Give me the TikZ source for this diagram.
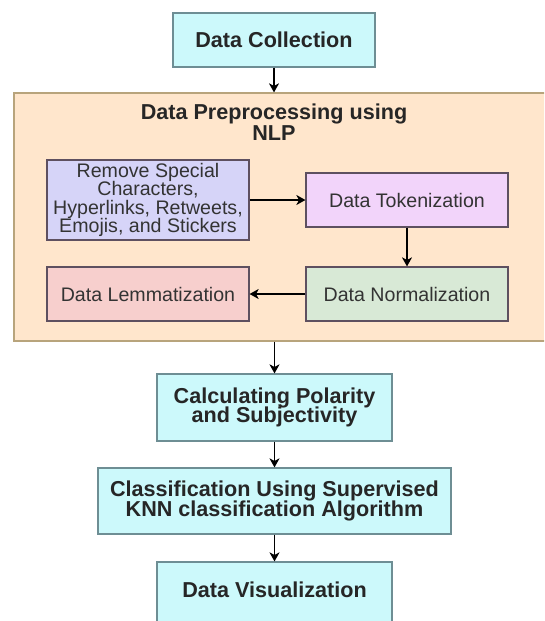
\documentclass[tikz,border=0pt]{standalone}
\usepackage{fontspec}
\setmainfont{Liberation Sans}
\usepackage[dvipsnames]{xcolor}
\usetikzlibrary{arrows.meta}

\definecolor{stepfill}{HTML}{CCF9FB}
\definecolor{stepline}{HTML}{6E8E94}
\definecolor{nlpfill}{HTML}{FFE6CC}
\definecolor{nlpline}{HTML}{B8A47C}
\definecolor{cleanfill}{HTML}{D6D4F8}
\definecolor{tokfill}{HTML}{F2D4FA}
\definecolor{normfill}{HTML}{D8E9D6}
\definecolor{lemfill}{HTML}{F7CFCD}
\definecolor{subline}{HTML}{5E5060}

\lineskiplimit=-20pt

\tikzset{
  mainbox/.style={draw=stepline, fill=stepfill, line width=1.2pt, align=center,
    text=black!85, inner sep=2pt,
    font=\bfseries\fontsize{21.6}{19.8}\selectfont},
  subbox/.style={draw=subline, line width=1.2pt, align=center, text=black!80,
    minimum width=202pt, inner sep=2pt,
    font=\fontsize{19.6}{18.4}\selectfont},
  flow/.style={-{Stealth[length=9pt,width=10pt,inset=2.5pt]}, line width=1.3pt}
}

\begin{document}
\begin{tikzpicture}[x=1pt,y=-1pt]
  \useasboundingbox (0,0) rectangle (544,621);
  \clip (0,0) rectangle (544,621);

  % Top step
  \node[mainbox, minimum width=202pt, minimum height=54pt] (coll) at (274,40) {Data Collection};

  % NLP block (runs off the right edge)
  \node[draw=nlpline, fill=nlpfill, line width=1.2pt, minimum width=546pt, minimum height=248pt] (prep) at (287,217) {};
  \node[font=\bfseries\fontsize{21.6}{20.5}\selectfont, align=center, text=black!85] (preptitle) at (274,122) {Data Preprocessing using\\NLP};

  % Steps inside the block
  \node[subbox, fill=cleanfill, minimum height=80pt] (clean) at (148,200) {Remove Special\\Characters,\\Hyperlinks, Retweets,\\Emojis, and Stickers};
  \node[subbox, fill=tokfill, minimum height=54pt] (tok) at (407,200) {Data Tokenization};
  \node[subbox, fill=normfill, minimum height=54pt] (norm) at (407,294) {Data Normalization};
  \node[subbox, fill=lemfill, minimum height=54pt] (lem) at (148,294) {Data Lemmatization};

  % Lower steps
  \node[mainbox, minimum width=235pt, minimum height=67pt] (calc) at (274.5,407.5) {Calculating Polarity\\and Subjectivity};
  \node[mainbox, minimum width=353pt, minimum height=66pt] (clas) at (274.5,501) {Classification Using Supervised\\KNN classification Algorithm};
  \node[mainbox, minimum width=235pt, minimum height=67pt] (vis) at (274.5,595.5) {};
  \node[font=\bfseries\fontsize{21.6}{19.5}\selectfont, text=black!85] (vistext) at (274.5,590) {Data Visualization};

  % Arrows
  \draw[flow] (coll.south) -- (coll.south |- prep.north);
  \draw[flow] (clean.east) -- (tok.west);
  \draw[flow] (tok.south) -- (norm.north);
  \draw[flow] (norm.west) -- (lem.east);
  \draw[flow] (calc.north |- prep.south) -- (calc.north);
  \foreach \a/\b in {calc/clas, clas/vis} {
    \draw[flow] (\a.south) -- (\b.north);
  }

\end{tikzpicture}
\end{document}
